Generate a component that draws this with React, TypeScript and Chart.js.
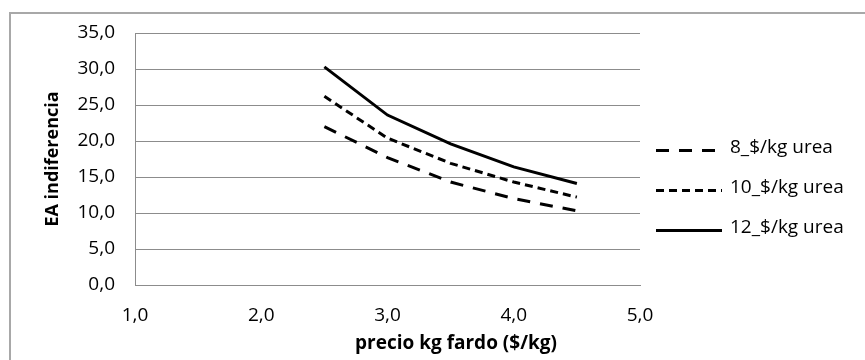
import React, { useEffect, useRef } from "react";
import { Chart, registerables } from "chart.js";

Chart.register(...registerables);

// ---- data ----
const precios = [2.5, 3.0, 3.5, 4.0, 4.5];
const urea8 = [22.0, 17.7, 14.3, 12.0, 10.3];
const urea10 = [26.2, 20.4, 16.9, 14.3, 12.2];
const urea12 = [30.3, 23.6, 19.6, 16.4, 14.1];
const seriesNames = ["8_$/kg urea", "10_$/kg urea", "12_$/kg urea"];
const xTickLabels = ["1,0", "2,0", "3,0", "4,0", "5,0"];
const yTickLabels = ["0,0", "5,0", "10,0", "15,0", "20,0", "25,0", "30,0", "35,0"];
const xTitle = "precio kg fardo ($/kg)";
const yTitle = "EA indiferencia";

const FONT = "'Open Sans', sans-serif";

const toPoints = (ys: number[]) => precios.map((x, i) => ({ x, y: ys[i] }));

const legendPlugin = {
  id: "excelLegend",
  afterDraw(chart: any) {
    const { ctx, chartArea } = chart;
    ctx.save();
    chart.data.datasets.forEach((ds: any, i: number) => {
      const y = chartArea.top + 117 + i * 40;
      const x1 = chartArea.right + 16;
      const x2 = chartArea.right + 82;
      ctx.beginPath();
      ctx.setLineDash(ds.borderDash || []);
      ctx.lineWidth = ds.borderWidth;
      ctx.strokeStyle = ds.borderColor;
      ctx.lineCap = "butt";
      ctx.moveTo(x1, y + 0.5);
      ctx.lineTo(x2, y + 0.5);
      ctx.stroke();
      ctx.setLineDash([]);
      ctx.fillStyle = "#000";
      ctx.font = `19px ${FONT}`;
      ctx.textAlign = "left";
      ctx.textBaseline = "middle";
      ctx.fillText(ds.label, chartArea.right + 90, y - 2);
    });
    // x axis title (Excel centres it on the chart, not the plot)
    ctx.fillStyle = "#000";
    ctx.font = `bold 19px ${FONT}`;
    ctx.textAlign = "center";
    ctx.textBaseline = "middle";
    ctx.fillText(xTitle, chartArea.left + 321, 344);
    ctx.restore();
  },
};

export default function App() {
  const ref = useRef<HTMLCanvasElement>(null);

  useEffect(() => {
    const canvas = ref.current!;
    const common = {
      borderColor: "#000",
      borderWidth: 3,
      pointRadius: 0,
      pointHoverRadius: 0,
      fill: false,
      tension: 0,
      borderCapStyle: "butt" as const,
    };
    const chart = new Chart(canvas, {
      type: "line",
      data: {
        datasets: [
          { ...common, label: seriesNames[0], data: toPoints(urea8), borderDash: [13, 10] },
          { ...common, label: seriesNames[1], data: toPoints(urea10), borderDash: [8, 5] },
          { ...common, label: seriesNames[2], data: toPoints(urea12), borderDash: [] },
        ],
      },
      options: {
        responsive: false,
        devicePixelRatio: 1,
        animation: false,
        layout: { padding: { top: 33, right: 225, left: 0, bottom: 0 } },
        plugins: {
          legend: { display: false },
          tooltip: { enabled: false },
        },
        scales: {
          x: {
            type: "linear",
            min: 1,
            max: 5,
            ticks: {
              stepSize: 1,
              padding: 19,
              color: "#000",
              font: { family: FONT, size: 19 },
              callback: (v: any) => xTickLabels[Math.round(Number(v)) - 1] ?? "",
            },
            grid: { display: false, drawTicks: false },
            border: { display: true, color: "#8c8c8c", width: 1 },
            afterFit: (s: any) => {
              s.height = 75;
            },
          },
          y: {
            type: "linear",
            min: 0,
            max: 35,
            ticks: {
              stepSize: 5,
              padding: 20,
              color: "#000",
              font: { family: FONT, size: 19 },
              callback: (v: any) => yTickLabels[Math.round(Number(v) / 5)] ?? "",
            },
            grid: { display: true, drawTicks: false, color: "#8c8c8c", lineWidth: 1 },
            border: { display: true, color: "#8c8c8c", width: 1 },
            title: {
              display: true,
              text: yTitle,
              color: "#000",
              font: { family: FONT, size: 18, weight: "bold" },
              padding: { top: 42, bottom: 0 },
            },
            afterFit: (s: any) => {
              s.width = 135;
            },
          },
        },
      },
      plugins: [legendPlugin],
    });
    return () => chart.destroy();
  }, []);

  return (
    <div
      style={{
        position: "fixed",
        left: 0,
        top: 0,
        width: 865,
        height: 360,
        overflow: "hidden",
        background: "#fff",
      }}
    >
      <div
        style={{
          position: "absolute",
          left: 9,
          top: 12,
          width: 920,
          height: 420,
          border: "2px solid #a8a8a8",
          boxSizing: "border-box",
        }}
      />
      <canvas
        ref={ref}
        width={865}
        height={360}
        style={{ position: "absolute", left: 0, top: 0, width: 865, height: 360 }}
      />
    </div>
  );
}
